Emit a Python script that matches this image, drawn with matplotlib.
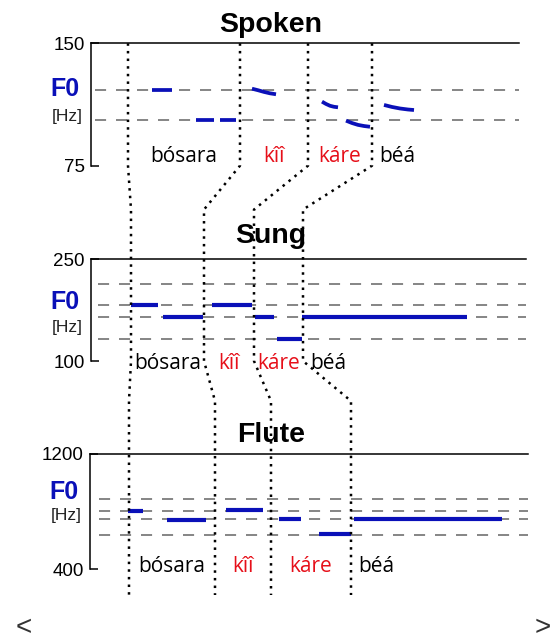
import matplotlib
matplotlib.use("Agg")
import matplotlib.pyplot as plt
from matplotlib.lines import Line2D
from matplotlib.ticker import NullLocator

# --- data (time in s, F0 in Hz) ---
words = ["bósara", "kîî", "káre", "béá"]
word_colors = ["black", "#e60f19", "#e60f19", "black"]

spoken_bounds = [0.19, 0.75, 1.09, 1.41]
spoken_grid = [115, 97]
spoken_t = [[0.31, 0.41], [0.53, 0.62], [0.65, 0.73],
            [0.81, 0.84, 0.87, 0.90, 0.93],
            [1.16, 1.18, 1.20, 1.22, 1.24],
            [1.28, 1.31, 1.34, 1.37, 1.40],
            [1.47, 1.51, 1.55, 1.59, 1.62]]
spoken_f0 = [[115, 115], [97, 97], [97, 97],
             [116.0, 115.0, 113.9, 113.0, 112.4],
             [107.8, 106.4, 105.3, 104.7, 104.4],
             [96.8, 95.5, 94.5, 93.9, 93.5],
             [105.8, 104.6, 103.7, 103.1, 102.8]]

sung_bounds = [0.205, 0.57, 0.82, 1.065]
sung_grid = [200, 165, 148, 122]
sung_t = [[0.205, 0.34], [0.365, 0.565], [0.61, 0.81],
          [0.825, 0.92], [0.935, 1.06], [1.06, 1.885]]
sung_f0 = [[165, 165], [148, 148], [166, 166],
           [149, 149], [122, 122], [148, 148]]

flute_bounds = [0.195, 0.625, 0.905, 1.305]
flute_grid = [784, 699, 644, 553]
flute_t = [[0.19, 0.265], [0.385, 0.58], [0.68, 0.865],
           [0.945, 1.055], [1.145, 1.305], [1.32, 2.06]]
flute_f0 = [[700, 700], [642, 642], [702, 702],
            [646, 646], [558, 558], [646, 646]]

W, H = 554, 641
BLUE = "#0a10b8"
fig = plt.figure(figsize=(W / 100, H / 100), dpi=100)
fig.patch.set_facecolor("white")


def px_axes(l, t, r, b):
    return [l / W, 1 - b / H, (r - l) / W, (b - t) / H]


panels = [
    dict(name="Spoken", rect=(91, 43.3, 519, 165.7), ylim=(75, 150),
         t=spoken_t, f=spoken_f0, grid=spoken_grid, bounds=spoken_bounds,
         pad=8.1, gx=0.01, f0y=0.623, hzy=0.406, wy=0.033, lw=2.7),
    dict(name="Sung", rect=(91, 259, 526, 361), ylim=(100, 250),
         t=sung_t, f=sung_f0, grid=sung_grid, bounds=sung_bounds,
         pad=11.2, gx=0.015, f0y=0.578, hzy=0.333, wy=-0.081, lw=3.0),
    dict(name="Flute", rect=(90, 454, 528, 569.3), ylim=(400, 1200),
         t=flute_t, f=flute_f0, grid=flute_grid, bounds=flute_bounds,
         pad=8.9, gx=0.02, f0y=0.67, hzy=0.47, wy=-0.026, lw=3.0),
]

axes = []
for p in panels:
    l, t, r, b = p["rect"]
    ax = fig.add_axes(px_axes(l, t, r, b))
    ax.set_yscale("log")
    ax.set_ylim(*p["ylim"])
    ax.set_xlim((l - 90) / 200, (r - 90) / 200)
    ax.patch.set_alpha(0)
    for s in ["right", "bottom"]:
        ax.spines[s].set_visible(False)
    for s in ["left", "top"]:
        ax.spines[s].set_linewidth(1.1)
    ax.set_xticks([])
    ax.set_yticks(list(p["ylim"]))
    ax.set_yticklabels([str(v) for v in p["ylim"]], family="Liberation Sans", fontsize=13.5)
    ax.yaxis.set_minor_locator(NullLocator())
    ax.tick_params(axis="y", direction="in", length=5.5, width=1.1, pad=4.5)

    for g in p["grid"]:
        ax.axhline(g, xmin=p["gx"], xmax=1.0, color="#858585", lw=1.4,
                   linestyle=(0, (5.7, 5.1)), zorder=1)
    for tt, ff in zip(p["t"], p["f"]):
        ax.plot(tt, ff, color=BLUE, lw=p["lw"], solid_capstyle="butt", zorder=3)

    ax.set_title(p["name"], x=(271 - l) / (r - l), pad=p["pad"],
                 fontsize=20.5, fontweight="bold", family="Liberation Sans")
    ax.annotate("F0", xy=(0, p["f0y"]), xycoords="axes fraction", xytext=(-8.5, 0),
                textcoords="offset points", ha="right", va="center", color=BLUE,
                fontsize=18, fontweight="bold", family="Liberation Sans")
    ax.annotate("[Hz]", xy=(0, p["hzy"]), xycoords="axes fraction", xytext=(-6, 0),
                textcoords="offset points", ha="right", va="center", color="#222222",
                fontsize=12.5, family="Liberation Sans")

    bnd = p["bounds"]
    tr = ax.get_xaxis_transform()
    for i, (w, c) in enumerate(zip(words, word_colors)):
        if i < len(words) - 1:
            ax.text((bnd[i] + bnd[i + 1]) / 2, p["wy"], w, transform=tr, ha="center",
                    va="baseline", color=c, fontsize=15, family="Open Sans")
        else:
            ax.annotate(w, xy=(bnd[i], p["wy"]), xycoords=tr, xytext=(5, 0),
                        textcoords="offset points", ha="left", va="baseline",
                        color=c, fontsize=15, family="Open Sans")
    axes.append(ax)

# dotted boundary lines linking the three panels
inv = fig.transFigure.inverted()


def fig_x(ax, t):
    return inv.transform(ax.transData.transform((t, ax.get_ylim()[0])))[0]


ax_sp, ax_su, ax_fl = axes
sp_top = 1 - 43.3 / H
sp_bot = 1 - 165.7 / H
su_top = 1 - 259 / H
su_bot = 1 - 361 / H
fl_top = 1 - 454 / H
y_end = 1 - 595 / H
bend1 = sp_bot + 0.47 * (su_top - sp_bot)
bend2 = su_bot + 0.43 * (fl_top - su_bot)
for k in range(len(words)):
    xs = fig_x(ax_sp, spoken_bounds[k])
    xu = fig_x(ax_su, sung_bounds[k])
    xf = fig_x(ax_fl, flute_bounds[k])
    line = Line2D([xs, xs, xu, xu, xf, xf],
                  [sp_top, sp_bot, bend1, su_bot, bend2, y_end],
                  transform=fig.transFigure, color="black", lw=1.8,
                  linestyle=(0, (1, 2.05)), zorder=5)
    fig.add_artist(line)

fig.text(24 / W, 1 - 628 / H, "<", ha="center", va="center", fontsize=20,
         color="#333333", family="Liberation Sans")
fig.text(543 / W, 1 - 628 / H, ">", ha="center", va="center", fontsize=20,
         color="#333333", family="Liberation Sans")

fig.savefig("out.png", dpi=100)
